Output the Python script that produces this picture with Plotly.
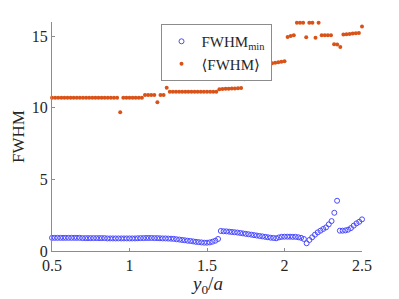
import numpy as np
import plotly.graph_objects as go

# x grids
x_mean = np.round(np.arange(0, 101) * 0.02 + 0.5, 4)
x_min = np.round(np.arange(0, 113) / 56 + 0.5, 4)

fwhm_mean = (
    [10.7] * 22 + [9.7] + [10.7] * 7 + [10.9] * 4 + [10.4] + [10.9] * 2 + [11.4]
    + [11.12] * 16
    + [11.3, 11.32, 11.33, 11.34, 11.35, 11.36, 11.37, 11.38]
    + [12.0, 12.04, 12.08, 12.12, 12.15, 12.19, 12.23]
    + [13.05, 13.08, 13.12, 13.15, 13.19, 13.22, 13.26]
    + [14.95, 15.02, 15.07]
    + [15.95] * 3 + [14.93] + [15.95] * 2 + [14.9] + [15.95]
    + [15.07] * 4 + [14.45, 14.42] + [14.26]
    + [15.12, 15.14, 15.17, 15.19, 15.22, 15.24] + [15.68]
)

fwhm_min = (
    [0.92] * 11
    + [0.90] * 9 + [0.88] * 9
    + [0.88, 0.88, 0.89, 0.90, 0.90, 0.91, 0.91, 0.91]
    + [0.90, 0.90, 0.89, 0.88, 0.88, 0.87, 0.86, 0.85]
    + [0.82, 0.80, 0.77, 0.75, 0.72, 0.70, 0.67, 0.64, 0.62, 0.60, 0.58]
    + [0.58, 0.60, 0.65, 0.72, 0.84]
    + [1.40]
    + [1.38, 1.37, 1.35, 1.33, 1.31, 1.29, 1.26, 1.23, 1.20, 1.17,
       1.14, 1.11, 1.08, 1.05, 1.02, 0.99, 0.96, 0.93, 0.91, 0.89]
    + [0.95, 0.99, 1.0, 1.0, 1.0, 0.99]
    + [0.99, 0.96, 0.92, 0.84, 0.54, 0.77, 0.96, 1.14, 1.30, 1.42, 1.54,
       1.65, 1.86, 2.09, 2.67, 3.51, 1.42, 1.42, 1.44, 1.49, 1.60, 1.77,
       1.93, 2.04, 2.21]
)

x_ticks = [0.5, 1, 1.5, 2, 2.5]
y_ticks = [0, 5, 10, 15]

font = "Liberation Serif, Times New Roman, DejaVu Serif, serif"
axis_col = "#8c8c8c"
txt_col = "#262626"

fig = go.Figure()
fig.add_trace(go.Scatter(
    x=x_min, y=fwhm_min, mode="markers", name="FWHM<sub>min</sub>",
    marker=dict(symbol="circle-open", size=5, color="#4a4aff", line=dict(width=1)),
    cliponaxis=False,
))
fig.add_trace(go.Scatter(
    x=x_mean, y=fwhm_mean, mode="markers", name="⟨FWHM⟩",
    marker=dict(symbol="circle", size=4, color="#D95319"),
    cliponaxis=False,
))

# page body has an 8px margin: figure is 391x291 so the plot sits at x 52..362, y 22..251
fig.update_layout(
    width=391, height=291,
    margin=dict(l=44, r=37, t=14, b=48, autoexpand=False),
    paper_bgcolor="white", plot_bgcolor="white",
    font=dict(family=font, size=16, color=txt_col),
    showlegend=True,
    legend=dict(
        x=0.35, y=0.991, xanchor="left", yanchor="top",
        bgcolor="white", bordercolor=axis_col, borderwidth=1,
        font=dict(family=font, size=15, color=txt_col),
        itemwidth=30, tracegroupgap=0,
    ),
    xaxis=dict(
        range=[0.5, 2.5], tickvals=x_ticks, ticktext=["0.5", "1", "1.5", "2", "2.5"],
        ticks="inside", ticklen=3, tickcolor=axis_col,
        showline=True, linecolor=axis_col, linewidth=1,
        showgrid=False, zeroline=False, automargin=False,
    ),
    yaxis=dict(
        range=[0, 16], tickvals=y_ticks,
        ticks="inside", ticklen=3, tickcolor=axis_col,
        showline=True, linecolor=axis_col, linewidth=1,
        showgrid=False, zeroline=False, automargin=False,
    ),
    annotations=[
        dict(text="<i>y</i><sub>0</sub>/<i>a</i>", xref="paper", yref="paper",
             x=0.5, y=-0.15, xanchor="center", yanchor="middle", showarrow=False,
             font=dict(family=font, size=19, color=txt_col)),
        dict(text="FWHM", xref="paper", yref="paper", textangle=-90,
             x=-0.108, y=0.5, xanchor="center", yanchor="middle", showarrow=False,
             font=dict(family=font, size=17, color=txt_col)),
    ],
)

fig.write_html("out.html")
